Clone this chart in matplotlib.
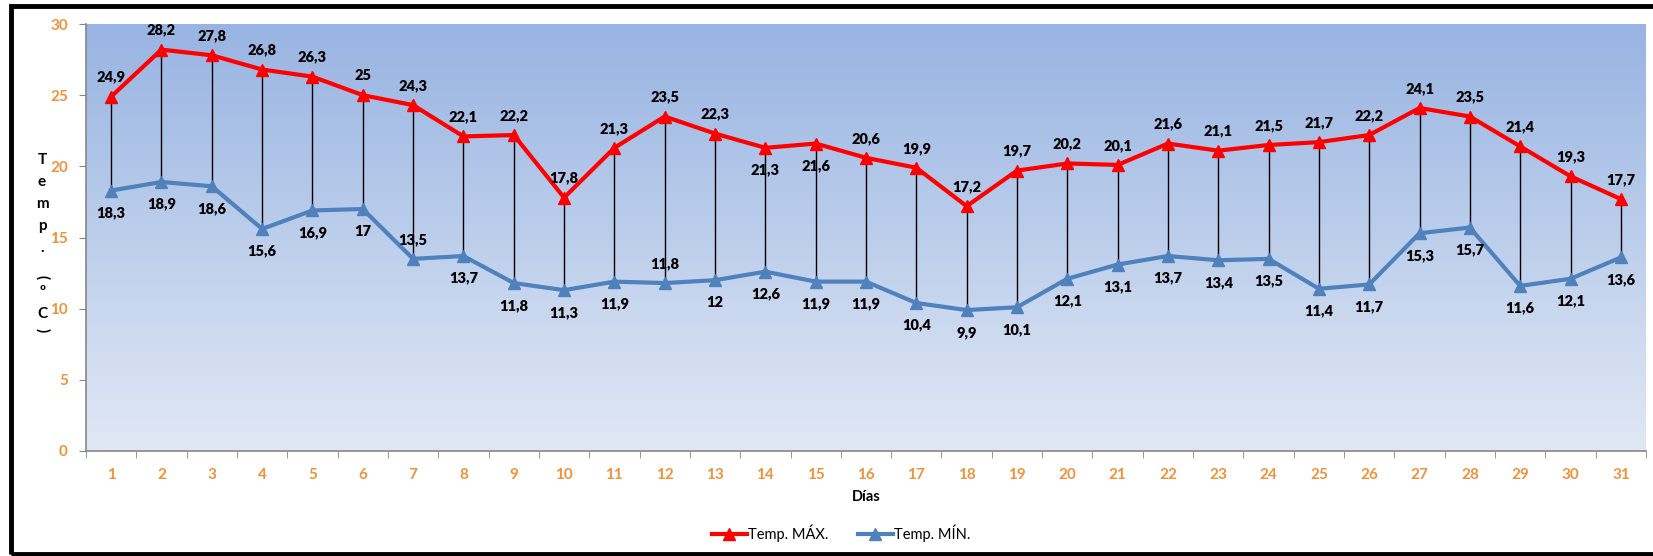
#!/usr/bin/env python3
"""Temperaturas máximas y mínimas diarias (mes de 31 días)."""
import numpy as np
import matplotlib
matplotlib.use("Agg")
import matplotlib.pyplot as plt
from matplotlib.patches import Rectangle
from matplotlib.lines import Line2D

days = list(range(1, 32))
t_max = [24.9, 28.2, 27.8, 26.8, 26.3, 25, 24.3, 22.1, 22.2, 17.8, 21.3, 23.5, 22.3, 21.3, 21.6, 20.6,
         19.9, 17.2, 19.7, 20.2, 20.1, 21.6, 21.1, 21.5, 21.7, 22.2, 24.1, 23.5, 21.4, 19.3, 17.7]
t_min = [18.3, 18.9, 18.6, 15.6, 16.9, 17, 13.5, 13.7, 11.8, 11.3, 11.9, 11.8, 12, 12.6, 11.9, 11.9,
         10.4, 9.9, 10.1, 12.1, 13.1, 13.7, 13.4, 13.5, 11.4, 11.7, 15.3, 15.7, 11.6, 12.1, 13.6]
# labels placed on the other side of the line for these days
max_below = [14, 15]
min_above = [7, 12]

FONT = "Lato"
ORANGE = "#F0923A"
RED = "#FF0000"
BLUE = "#4F81BD"
GREY = "#868686"


def fmt(v):
    s = f"{v:g}"
    return s.replace(".", ",")


fig = plt.figure(figsize=(16.53, 5.56), dpi=100)
ax = fig.add_axes([86 / 1653, 1 - 451 / 556, (1646 - 86) / 1653, (451 - 24) / 556])

# gradient background
grad = np.linspace(0, 1, 256).reshape(-1, 1)
top = np.array(matplotlib.colors.to_rgb("#98B4E2"))
bot = np.array(matplotlib.colors.to_rgb("#E1E8F5"))
img = top + (bot - top) * grad
ax.imshow(img[:, None, :].repeat(2, axis=1), extent=[0, 1, 0, 1], transform=ax.transAxes,
          aspect="auto", zorder=0)

ax.vlines(days, t_min, t_max, colors="black", lw=1, zorder=2)
ax.plot(days, t_max, color=RED, lw=3, marker="^", ms=8, zorder=3)
ax.plot(days, t_min, color=BLUE, lw=3, marker="^", ms=8, zorder=3)

for d, v in zip(days, t_max):
    off = -16 if d in max_below else 14
    ax.annotate(fmt(v), (d, v), xytext=(0, off), textcoords="offset points", ha="center",
                va="center", fontsize=10.5, fontweight="heavy", family=FONT, zorder=4)
for d, v in zip(days, t_min):
    off = 14 if d in min_above else -16
    ax.annotate(fmt(v), (d, v), xytext=(0, off), textcoords="offset points", ha="center",
                va="center", fontsize=10.5, fontweight="heavy", family=FONT, zorder=4)

ax.set_xlim(0.5, 31.5)
ax.set_ylim(0, 30)
ax.set_xticks(days)
ax.set_xticks(np.arange(0.5, 32, 1), minor=True)
ax.set_yticks(range(0, 31, 5))
ax.tick_params(axis="x", which="major", length=0, pad=12, labelcolor=ORANGE)
ax.tick_params(axis="x", which="minor", length=5, color=GREY, direction="out")
ax.tick_params(axis="y", length=5, color=GREY, labelcolor=ORANGE, pad=8)
for lab in ax.get_xticklabels() + ax.get_yticklabels():
    lab.set_fontfamily(FONT)
    lab.set_fontweight("bold")
    lab.set_fontsize(11)
for s in ("top", "right"):
    ax.spines[s].set_visible(False)
for s in ("left", "bottom"):
    ax.spines[s].set_color(GREY)
    ax.spines[s].set_linewidth(1.2)

ax.set_xlabel("Días", fontsize=10.5, fontweight="bold", family=FONT, labelpad=6)

# stacked y label
chars = ["T", "e", "m", "p", ".", "(", "º", "C", ")"]
ys = [160, 182, 204, 226, 248, 277, 292, 314, 330]
for ch, y in zip(chars, ys):
    rot = -90 if ch in "()" else 0
    fig.text(42 / 1653, 1 - y / 556, ch, ha="center", va="center", fontsize=11,
             fontweight="bold", family=FONT, rotation=rot)

handles = [Line2D([], [], color=RED, lw=3, marker="^", ms=8),
           Line2D([], [], color=BLUE, lw=3, marker="^", ms=8)]
fig.legend(handles, ["Temp. MÁX.", "Temp. MÍN."], loc="center", bbox_to_anchor=(0.509, 1 - 533 / 556),
           ncol=2, frameon=False, prop={"family": FONT, "size": 10.5}, handlelength=2.4,
           handletextpad=0.1, columnspacing=2.0)

fig.patches.append(Rectangle((11 / 1653, 2 / 556), 1.1, 1 - 8 / 556, transform=fig.transFigure,
                             fill=False, ec="black", lw=3.5, zorder=10))

fig.savefig("out.png", dpi=100)
